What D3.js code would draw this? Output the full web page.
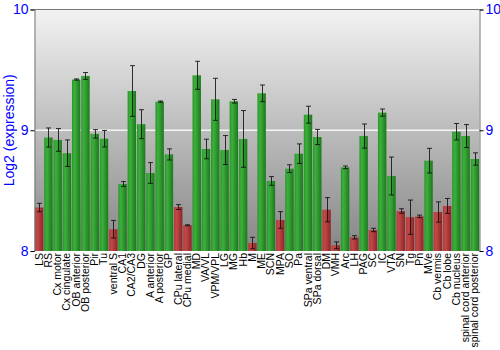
<!DOCTYPE html>
<html>
<head>
<meta charset="utf-8">
<script src="https://cdn.jsdelivr.net/npm/d3@7"></script>
<style>
  html, body { margin: 0; padding: 0; background: #fff; }
  svg { display: block; font-family: "Liberation Sans", Arial, sans-serif; }
</style>
</head>
<body>
<svg id="chart" width="500" height="350"></svg>
<script>
// Brain regions shown along the x axis
const regions = [
  "LS", "RS", "Cx motor", "Cx cingulate", "OB anterior", "OB posterior", "Pir", "Tu",
  "ventral S", "CA1", "CA2/CA3", "DG", "A anterior", "A posterior", "GP", "CPu lateral",
  "CPu medial", "MD", "VA/VL", "VPM/VPL", "LG", "MG", "Hb", "M",
  "ME", "SCN", "MPA", "SO", "Pa", "SPa ventral", "SPa dorsal", "DM",
  "VMH", "Arc", "LH", "PAG", "SC", "IC", "VTA", "SN",
  "Tg", "Pn", "MVe", "Cb vermis", "Cb lobe", "Cb nucleus", "spinal cord anterior", "spinal cord posterior"
];

// Mean log2 expression per region
const expression = [
  8.36, 8.94, 8.92, 8.81, 9.42, 9.45, 8.97, 8.93,
  8.18, 8.555, 9.325, 9.05, 8.646, 9.237, 8.80, 8.364,
  8.213, 9.455, 8.845, 9.256, 8.836, 9.24, 8.928, 8.066,
  9.306, 8.58, 8.257, 8.682, 8.806, 9.129, 8.944, 8.342,
  8.047, 8.693, 8.113, 8.952, 8.174, 9.146, 8.621, 8.331,
  8.28, 8.287, 8.748, 8.323, 8.373, 8.988, 8.952, 8.762
];

// Half-width of the error bar for each region
const errors = [
  0.035, 0.079, 0.094, 0.11, 0.005, 0.028, 0.035, 0.068,
  0.073, 0.02, 0.21, 0.12, 0.086, 0.005, 0.046, 0.02,
  0.004, 0.116, 0.081, 0.174, 0.12, 0.015, 0.235, 0.047,
  0.069, 0.036, 0.069, 0.032, 0.081, 0.07, 0.063, 0.1,
  0.028, 0.011, 0.014, 0.1, 0.014, 0.03, 0.157, 0.019,
  0.142, 0.01, 0.102, 0.084, 0.062, 0.068, 0.095, 0.051
];

const yTicks = [8, 9, 10];
const yDomain = [8, 10];
const lowThreshold = 8.5;   // regions below this are drawn red
const yTitle = "Log2 (expression)";

const svg = d3.select("#chart");
const margin = { top: 9.5, right: 20.5, bottom: 99, left: 34.5 };
const W = 500, H = 350;
const innerW = W - margin.left - margin.right;
const innerH = H - margin.top - margin.bottom;

const x = d3.scaleBand().domain(regions).range([margin.left, margin.left + innerW])
  .paddingInner(0.09).paddingOuter(0.04);
const y = d3.scaleLinear().domain(yDomain).range([margin.top + innerH, margin.top]);

const defs = svg.append("defs");
const bg = defs.append("linearGradient").attr("id", "bg").attr("x1", 0).attr("y1", 0).attr("x2", 0).attr("y2", 1);
bg.append("stop").attr("offset", "0%").attr("stop-color", "#f2f2f2");
bg.append("stop").attr("offset", "100%").attr("stop-color", "#868686");

function barGrad(id, light, mid, dark) {
  const g = defs.append("linearGradient").attr("id", id).attr("x1", 0).attr("y1", 0).attr("x2", 1).attr("y2", 0);
  g.append("stop").attr("offset", "0%").attr("stop-color", mid);
  g.append("stop").attr("offset", "30%").attr("stop-color", light);
  g.append("stop").attr("offset", "100%").attr("stop-color", dark);
}
barGrad("gGreen", "#3cb03c", "#2a962a", "#1c781c");
barGrad("gRed", "#c44848", "#b03a3a", "#8c2626");

// plot background
svg.append("rect")
  .attr("x", margin.left).attr("y", margin.top)
  .attr("width", innerW).attr("height", innerH)
  .attr("fill", "url(#bg)");

// white gridline at the middle tick
svg.append("g").selectAll("line")
  .data(yTicks.filter(t => t > yDomain[0] && t < yDomain[1]))
  .join("line")
  .attr("x1", margin.left).attr("x2", margin.left + innerW)
  .attr("y1", d => y(d)).attr("y2", d => y(d))
  .attr("stroke", "#f4f4f4").attr("stroke-width", 1.5);

// bars
svg.append("g").selectAll("rect")
  .data(regions)
  .join("rect")
  .attr("x", d => x(d))
  .attr("width", x.bandwidth())
  .attr("y", (d, i) => y(expression[i]))
  .attr("height", (d, i) => y(yDomain[0]) - y(expression[i]))
  .attr("fill", (d, i) => expression[i] < lowThreshold ? "url(#gRed)" : "url(#gGreen)");

// error bars
const eb = svg.append("g").attr("stroke", "#111").attr("stroke-opacity", 0.85).attr("stroke-width", 1);
regions.forEach((r, i) => {
  const cx = Math.round(x(r) + x.bandwidth() / 2) + 0.5;
  const y1 = y(expression[i] + errors[i]), y2 = y(expression[i] - errors[i]);
  eb.append("line").attr("x1", cx).attr("x2", cx).attr("y1", y1).attr("y2", y2);
  eb.append("line").attr("x1", cx - 2.5).attr("x2", cx + 2.5).attr("y1", y1).attr("y2", y1);
  eb.append("line").attr("x1", cx - 2.5).attr("x2", cx + 2.5).attr("y1", y2).attr("y2", y2);
});

// frame line along the top
const frame = svg.append("g").attr("stroke", "#777").attr("stroke-width", 1).attr("fill", "none");
frame.append("line").attr("x1", margin.left).attr("x2", margin.left + innerW).attr("y1", margin.top).attr("y2", margin.top);

// left and right axes
const axisL = d3.axisLeft(y).tickValues(yTicks).tickFormat(d3.format("d")).tickSize(4).tickPadding(2);
const axisR = d3.axisRight(y).tickValues(yTicks).tickFormat(d3.format("d")).tickSize(4).tickPadding(2);
function styleAxis(g) {
  g.select(".domain").attr("stroke", "#777");
  g.selectAll(".tick line").attr("stroke", "#000");
  g.selectAll(".tick text").attr("fill", "#0000ff").style("font-size", "14px")
    .style("font-family", "'Liberation Sans', Arial, sans-serif");
}
svg.append("g").attr("transform", `translate(${margin.left},0)`).call(axisL).call(styleAxis);
svg.append("g").attr("transform", `translate(${margin.left + innerW},0)`).call(axisR).call(styleAxis);

// rotated region labels
svg.append("g").selectAll("text")
  .data(regions)
  .join("text")
  .attr("transform", d => `translate(${x(d) + x.bandwidth() / 2 + 3.5},${margin.top + innerH + 2}) rotate(-90)`)
  .attr("text-anchor", "end")
  .style("font-size", "10.5px")
  .attr("fill", "#000")
  .text(d => d);

// y axis title
svg.append("text")
  .attr("transform", `translate(14,${margin.top + innerH / 2}) rotate(-90)`)
  .attr("text-anchor", "middle")
  .attr("fill", "#0000ff")
  .style("font-size", "14px")
  .text(yTitle);
</script>
</body>
</html>
